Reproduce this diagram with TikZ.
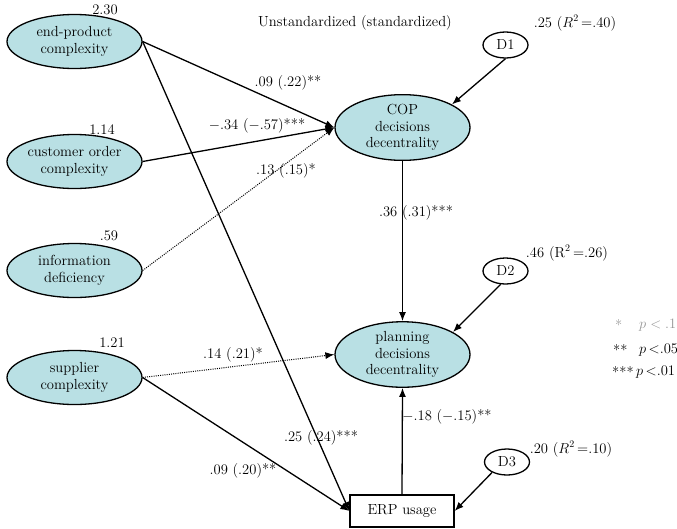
\documentclass[tikz,border=0pt]{standalone}
\usetikzlibrary{arrows.meta,shapes.geometric}
\definecolor{latfill}{RGB}{185,224,228}
\definecolor{legendgray}{RGB}{150,150,150}
\begin{document}
\begin{tikzpicture}[x=1pt,y=-1pt,
  font=\fontsize{14.6}{16.6}\selectfont,
  latent/.style={ellipse,draw,line width=1.3pt,fill=latfill,inner sep=0pt,
    minimum width=135pt,minimum height=54pt,align=center},
  dist/.style={ellipse,draw,line width=1.3pt,inner sep=0pt,
    minimum width=45pt,minimum height=26pt},
  obsbox/.style={rectangle,draw,line width=1.3pt,inner sep=0pt,
    minimum width=104pt,minimum height=32pt},
  lbl/.style={inner sep=0pt,anchor=center},
  path/.style={line width=1.3pt,-{Latex[length=9pt,width=7pt]}},
  weakpath/.style={line width=1pt,dash pattern=on 1pt off 1.2pt,-{Latex[length=9pt,width=7pt]}},
]
\useasboundingbox (0,0) rectangle (677,528);

% exogenous constructs
\node[latent] (ep)   at (74.5,41.5)  {end-product\\complexity};
\node[latent] (co)   at (74.5,161.5) {customer order\\complexity};
\node[latent] (info) at (74.5,270.5) {information\\deficiency};
\node[latent] (sup)  at (74.5,377.5) {supplier\\complexity};

% variances
\node[lbl] (vep)   at (105,10)  {2.30};
\node[lbl] (vco)   at (102,130) {1.14};
\node[lbl] (vinfo) at (109,236) {.59};
\node[lbl] (vsup)  at (112,343) {1.21};

% endogenous constructs
\node[latent,minimum height=55pt] (cop)  at (402.5,127.5) {COP\\decisions\\decentrality};
\node[latent,minimum height=55pt] (plan) at (402.5,354.5) {planning\\decisions\\decentrality};
\node[obsbox] (erp) at (402,511) {ERP usage};

% disturbances
\node[dist] (d1) at (505.5,45)  {D1};
\node[dist] (d2) at (505.5,271) {D2};
\node[dist] (d3) at (507,462)   {D3};

\node[lbl] (r1) at (575,23)  {.25 ($R^2$\,=.40)};
\node[lbl] (r2) at (567,253) {.46 (R$^2$\,=.26)};
\node[lbl] (r3) at (571,449) {.20 ($R^2$\,=.10)};

\node[lbl] (title) at (355,23) {Unstandardized (standardized)};

% structural paths
\draw[path] (ep.east) -- (cop.west);
\draw[path] (co.east) -- (cop.west);
\draw[weakpath] (info.east) -- (cop.west);
\draw[path] (ep.east) -- (erp.west);
\draw[weakpath] (sup.east) -- (plan.west);
\draw[path] (sup.east) -- (erp.west);
\draw[path] (cop.south) -- (plan.north);
\draw[path] (erp.north) -- (plan.south);

% disturbance paths
\draw[path] (d1.south) -- (cop.25);
\draw[path] (d2.250) -- (plan.24);
\draw[path] (d3.215) -- (erp.east);

% path coefficients
\node[lbl] (c1) at (288,83)  {.09 (.22)**};
\node[lbl] (c2) at (257,126) {$-$.34 ($-$.57)***};
\node[lbl] (c3) at (286,171) {.13 (.15)*};
\node[lbl] (c4) at (416,213) {.36 (.31)***};
\node[lbl] (c5) at (233,355) {.14 (.21)*};
\node[lbl] (c6) at (243,471) {.09 (.20)**};
\node[lbl] (c7) at (321,438) {.25 (.24)***};
\node[lbl] (c8) at (447,417) {$-$.18 ($-$.15)**};

% significance legend
\node[lbl,anchor=west,text=legendgray] (s1) at (615,325) {*};
\node[lbl,anchor=west,text=legendgray] (p1) at (639,325) {$p<.1$};
\node[lbl,anchor=west] (s2) at (613,350) {**};
\node[lbl,anchor=west] (p2) at (639,350) {$p$\,<.05};
\node[lbl,anchor=west] (s3) at (612,372) {***};
\node[lbl,anchor=west] (p3) at (636,372) {$p$\,<.01};
\end{tikzpicture}
\end{document}
